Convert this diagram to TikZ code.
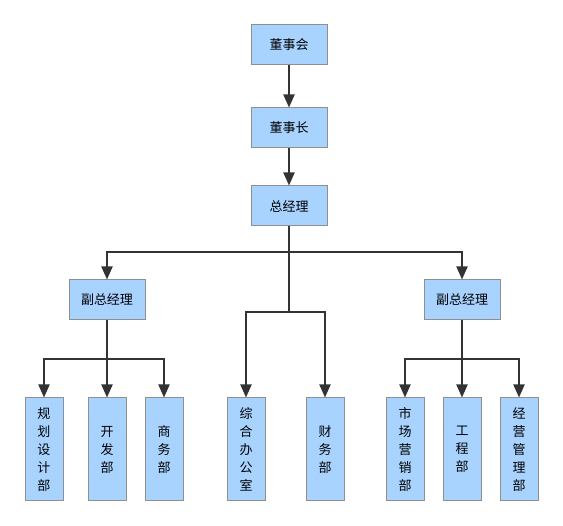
\documentclass[tikz,border=0pt]{standalone}
\usepackage{fontspec}
\setmainfont{Noto Sans CJK SC}
\usetikzlibrary{arrows.meta}
\definecolor{boxfill}{HTML}{A9D3FF}
\definecolor{boxline}{HTML}{8F8F8F}
\definecolor{linec}{HTML}{333333}
\begin{document}
\begin{tikzpicture}[x=1pt,y=-1pt,
  box/.style={draw=boxline,fill=boxfill,line width=1pt,inner sep=0pt,
    font=\fontsize{13}{18}\selectfont,align=center},
  hbox/.style={box,minimum width=76pt,minimum height=40pt},
  vbox/.style={box,minimum width=38pt,minimum height=103pt},
  conn/.style={draw=linec,line width=2pt},
  arr/.style={conn,-{Triangle[width=11pt,length=13pt]}}]
\useasboundingbox (0,0) rectangle (563,526);
\node[hbox] (dsh) at (289,44.5) {董事会};
\node[hbox] (dsz) at (289,128) {董事长};
\node[hbox] (zjl) at (289,206) {总经理};
\node[hbox] (fzl) at (107,300) {副总经理};
\node[hbox] (fzr) at (462,300) {副总经理};
\node[vbox] (b1) at (44,449.5) {规\\划\\设\\计\\部};
\node[vbox] (b2) at (107,449.5) {开\\发\\部};
\node[vbox] (b3) at (164,449.5) {商\\务\\部};
\node[vbox] (b4) at (246,449.5) {综\\合\\办\\公\\室};
\node[vbox] (b5) at (325,449.5) {财\\务\\部};
\node[vbox] (b6) at (405,449.5) {市\\场\\营\\销\\部};
\node[vbox] (b7) at (462,449.5) {工\\程\\部};
\node[vbox] (b8) at (519,449.5) {经\\营\\管\\理\\部};
\coordinate (j0) at (289,252);
\coordinate (jm) at (289,312);
\coordinate (jl) at (107,359);
\coordinate (jr) at (462,359);
\draw[arr] (dsh) -- (dsz);
\draw[arr] (dsz) -- (zjl);
\draw[conn] (zjl) -- (jm);
\draw[arr] (j0) -| (fzl);
\draw[arr] (j0) -| (fzr);
\draw[arr] (jm) -| (b4);
\draw[arr] (jm) -| (b5);
\draw[conn] (fzl) -- (jl);
\draw[arr] (jl) -| (b1);
\draw[arr] (jl) -- (b2);
\draw[arr] (jl) -| (b3);
\draw[conn] (fzr) -- (jr);
\draw[arr] (jr) -| (b6);
\draw[arr] (jr) -- (b7);
\draw[arr] (jr) -| (b8);
\end{tikzpicture}
\end{document}
